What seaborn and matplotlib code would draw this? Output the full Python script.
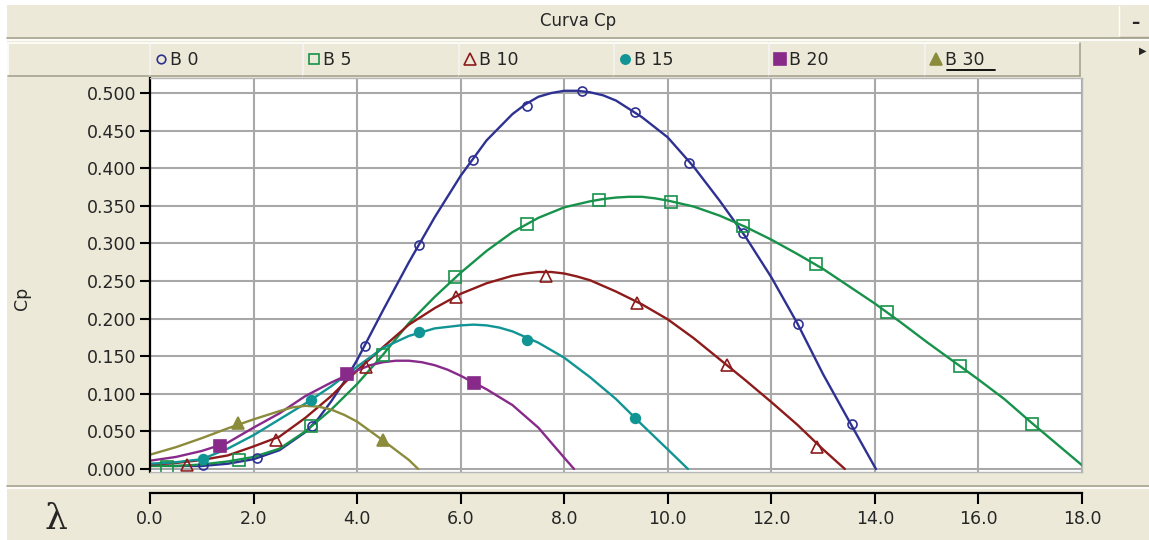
import matplotlib
matplotlib.use("Agg")
import numpy as np
import pandas as pd
import matplotlib.pyplot as plt
from matplotlib.patches import Rectangle
from matplotlib.lines import Line2D
import seaborn as sns

# ---- data (lambda, Cp) ----
# smooth curves (extra readings near the peaks)
b0_x = [0, 0.5, 1.0, 1.5, 2.0, 2.5, 3.0, 3.25, 3.5, 3.75, 4.0, 4.25, 4.5, 5.0, 5.5, 6.0, 6.5,
        7.0, 7.25, 7.5, 7.75, 8.0, 8.25, 8.5, 8.75, 9.0, 9.5, 10.0, 10.5, 11.0, 11.5, 12.0,
        12.5, 13.0, 13.5, 14.02]
b0_y = [0.005, 0.004, 0.004, 0.007, 0.013, 0.025, 0.049, 0.067, 0.090, 0.116, 0.145, 0.178,
        0.211, 0.275, 0.335, 0.390, 0.437, 0.472, 0.485, 0.495, 0.500, 0.503, 0.503, 0.501,
        0.497, 0.490, 0.468, 0.441, 0.402, 0.357, 0.309, 0.255, 0.194, 0.126, 0.064, 0.0]

b5_x = [0, 0.5, 1.0, 1.5, 2.0, 2.5, 3.0, 3.5, 4.0, 4.5, 5.0, 5.5, 6.0, 6.5, 7.0, 7.5, 8.0,
        8.5, 8.75, 9.0, 9.25, 9.5, 9.75, 10.0, 10.5, 11.0, 11.5, 12.0, 12.5, 13.0, 13.5, 14.0,
        14.5, 15.0, 15.5, 16.0, 16.5, 17.0, 17.5, 18.0]
b5_y = [0.004, 0.004, 0.006, 0.010, 0.016, 0.027, 0.050, 0.079, 0.113, 0.152, 0.194, 0.229,
        0.261, 0.290, 0.315, 0.334, 0.348, 0.356, 0.359, 0.361, 0.362, 0.362, 0.360, 0.357,
        0.349, 0.337, 0.322, 0.305, 0.286, 0.266, 0.243, 0.220, 0.195, 0.169, 0.144, 0.119,
        0.093, 0.063, 0.034, 0.005]

b10_x = [0, 0.5, 1.0, 1.5, 2.0, 2.5, 3.0, 3.5, 4.0, 4.5, 5.0, 5.5, 6.0, 6.5, 7.0, 7.25, 7.5,
         7.75, 8.0, 8.25, 8.5, 9.0, 9.5, 10.0, 10.5, 11.0, 11.5, 12.0, 12.5, 13.0, 13.42]
b10_y = [0.006, 0.008, 0.012, 0.018, 0.030, 0.043, 0.068, 0.097, 0.131, 0.162, 0.192, 0.214,
         0.233, 0.247, 0.257, 0.260, 0.262, 0.262, 0.260, 0.256, 0.251, 0.236, 0.219, 0.199,
         0.174, 0.146, 0.118, 0.089, 0.059, 0.026, 0.0]

b15_x = [0, 0.5, 1.0, 1.5, 2.0, 2.5, 3.0, 3.5, 4.0, 4.5, 5.0, 5.5, 5.75, 6.0, 6.25, 6.5, 6.75,
         7.0, 7.5, 8.0, 8.5, 9.0, 9.5, 10.0, 10.39]
b15_y = [0.007, 0.009, 0.013, 0.027, 0.045, 0.066, 0.087, 0.110, 0.136, 0.161, 0.177, 0.187,
         0.189, 0.191, 0.192, 0.191, 0.188, 0.183, 0.168, 0.148, 0.122, 0.093, 0.059, 0.026, 0.0]

b20_x = [0, 0.5, 1.0, 1.5, 2.0, 2.5, 3.0, 3.5, 4.0, 4.25, 4.5, 4.75, 5.0, 5.25, 5.5, 5.75,
         6.0, 6.5, 7.0, 7.5, 8.0, 8.19]
b20_y = [0.011, 0.016, 0.024, 0.035, 0.055, 0.074, 0.097, 0.115, 0.131, 0.138, 0.142, 0.144,
         0.144, 0.142, 0.138, 0.132, 0.124, 0.106, 0.085, 0.055, 0.015, 0.0]

b30_x = [0, 0.5, 1.0, 1.5, 2.0, 2.5, 2.75, 3.0, 3.25, 3.5, 3.75, 4.0, 4.5, 5.0, 5.18]
b30_y = [0.019, 0.029, 0.041, 0.054, 0.066, 0.077, 0.082, 0.084, 0.083, 0.079, 0.072, 0.063,
         0.038, 0.012, 0.0]

# sample points (markers)
b0_mx = [1.02, 2.07, 3.13, 4.15, 5.20, 6.24, 7.28, 8.34, 9.37, 10.41, 11.45, 12.51, 13.56]
b0_my = [0.005, 0.015, 0.057, 0.164, 0.298, 0.411, 0.483, 0.503, 0.475, 0.407, 0.314, 0.193, 0.060]
b5_mx = [0.33, 1.72, 3.11, 4.50, 5.89, 7.28, 8.67, 10.06, 11.45, 12.86, 14.23, 15.64, 17.03]
b5_my = [0.003, 0.012, 0.057, 0.152, 0.255, 0.326, 0.358, 0.355, 0.323, 0.273, 0.209, 0.137, 0.060]
b10_mx = [0.71, 2.43, 4.17, 5.91, 7.65, 9.40, 11.14, 12.88]
b10_my = [0.005, 0.038, 0.136, 0.229, 0.257, 0.221, 0.138, 0.029]
b15_mx = [1.03, 3.11, 5.20, 7.28, 9.37]
b15_my = [0.013, 0.092, 0.182, 0.172, 0.068]
b20_mx = [1.35, 3.80, 6.26]
b20_my = [0.031, 0.126, 0.115]
b30_mx = [1.70, 4.50]
b30_my = [0.061, 0.038]

names = ["B 0", "B 5", "B 10", "B 15", "B 20", "B 30"]
colors = ["#2E3192", "#17924A", "#8E1B1B", "#119494", "#882A8A", "#8B8B3C"]
markers = ["o", "s", "^", "o", "s", "^"]
filled = [False, False, False, True, True, True]
msizes = [6.5, 8, 8.5, 7, 8.5, 8.5]

curves = [(b0_x, b0_y), (b5_x, b5_y), (b10_x, b10_y), (b15_x, b15_y), (b20_x, b20_y), (b30_x, b30_y)]
points = [(b0_mx, b0_my), (b5_mx, b5_my), (b10_mx, b10_my), (b15_mx, b15_my), (b20_mx, b20_my), (b30_mx, b30_my)]

sns.set_style("white")
plt.rcParams['font.family'] = ['DejaVu Sans']

BG = "#ECE9D8"
DARK = "#A7A390"
W, H = 1149, 540
fig = plt.figure(figsize=(W / 100, H / 100), dpi=100, facecolor=BG)


def fx(px):
    return px / W


def fy(py):
    return 1 - py / H


def frect(x0, y0, x1, y1, **kw):
    fig.add_artist(Rectangle((fx(x0), fy(y1)), fx(x1) - fx(x0), fy(y0) - fy(y1),
                             transform=fig.transFigure, **kw))


def fline(xs, ys, **kw):
    fig.add_artist(Line2D([fx(v) for v in xs], [fy(v) for v in ys],
                          transform=fig.transFigure, **kw))


# white border around the panel
frect(0, 0, W, 5, fc="white", ec="none")
frect(0, 0, 7, H, fc="white", ec="none")

# title bar
fline([7, W], [38, 38], color=DARK, lw=1.2)
fline([7, W], [40, 40], color="white", lw=1.2)
fig.text(fx(578), fy(21), "Curva Cp", ha="center", va="center", fontsize=12)
# minimise button
fline([1119, 1119], [6, 37], color="white", lw=1)
fline([1119, W], [37, 37], color=DARK, lw=1)
fig.text(fx(1135), fy(23), "\u2013", ha="center", va="center", fontsize=12, fontweight="bold")
fig.text(fx(1143), fy(51), "\u25B6", ha="center", va="center", fontsize=7)

# legend strip
cells = [150, 303, 459, 614, 769, 925, 1080]
for x0, x1 in [(8, 150)] + list(zip(cells[:-1], cells[1:])):
    fline([x0, x1], [43, 43], color="white", lw=1.2)
    fline([x0, x0], [43, 76], color="white", lw=1.2)
    fline([x0, x1], [76, 76], color=DARK, lw=1.2)
    fline([x1, x1], [43, 76], color=DARK, lw=1.2)

for i, name in enumerate(names):
    x0 = cells[i]
    c = colors[i]
    fig.add_artist(Line2D([fx(x0 + 11)], [fy(59)], transform=fig.transFigure, marker=markers[i],
                          ms=msizes[i] * 0.95, mec=c, mfc=c if filled[i] else "none", mew=1.2, ls="none"))
    fig.text(fx(x0 + 20), fy(60), name, ha="left", va="center", fontsize=12.5)
fline([cells[5] + 22, cells[5] + 70], [70, 70], color="black", lw=1.3)

# separator above the x axis
fline([7, W], [486, 486], color=DARK, lw=1.2)
fline([7, W], [488, 488], color="white", lw=1.2)

# ---- main plot area ----
ax = fig.add_axes([fx(150), fy(472), fx(1082) - fx(150), fy(78) - fy(472)])
ax.set_facecolor("white")
for i in range(6):
    cx, cy = curves[i]
    df = pd.DataFrame({"lam": cx, "cp": cy})
    sns.lineplot(data=df, x="lam", y="cp", ax=ax, color=colors[i], lw=1.7, estimator=None)
for i in range(6):
    mx, my = points[i]
    dfm = pd.DataFrame({"lam": mx, "cp": my})
    sns.lineplot(data=dfm, x="lam", y="cp", ax=ax, ls="none", marker=markers[i], ms=msizes[i],
                 mec=colors[i], mfc=colors[i] if filled[i] else "none", mew=1.2,
                 color=colors[i], estimator=None)

ax.set_xlim(0, 18)
ax.set_ylim(-0.004, 0.52)
ax.set_xticks(np.arange(0, 18.1, 2.0))
ax.set_xticklabels([])
ax.set_yticks(np.arange(0, 0.501, 0.05))
ax.set_yticklabels([f"{v:.3f}" for v in np.arange(0, 0.501, 0.05)])
ax.grid(True, color="#A8A8A8", lw=1.5)
ax.set_axisbelow(True)
ax.set_xlabel("")
ax.set_ylabel("")
ax.tick_params(axis="x", length=0)
ax.tick_params(axis="y", direction="out", length=7, width=1.5, color="black",
               labelsize=12.5, pad=3, left=True)
for s in ["top", "right", "bottom"]:
    ax.spines[s].set_color("#B8B8B8")
    ax.spines[s].set_linewidth(1)
ax.spines["left"].set_color("black")
ax.spines["left"].set_linewidth(1.6)
fig.text(fx(22), fy(298), "Cp", rotation=90, ha="center", va="center", fontsize=12.5)

# ---- separate x axis below ----
axx = fig.add_axes([fx(150), fy(493), fx(1082) - fx(150), 0.0001])
axx.set_facecolor("none")
axx.set_xlim(0, 18)
axx.set_xticks(np.arange(0, 18.1, 2.0))
axx.set_xticklabels([f"{v:.1f}" for v in np.arange(0, 18.1, 2.0)])
axx.set_yticks([])
for s in ["top", "right", "left"]:
    axx.spines[s].set_visible(False)
axx.spines["bottom"].set_color("black")
axx.spines["bottom"].set_linewidth(1.6)
axx.tick_params(axis="x", direction="out", length=8, width=1.5, color="black",
                labelsize=12.5, pad=4, bottom=True)
fig.text(fx(56), fy(519), "\u03BB", ha="center", va="center", fontsize=26, family="DejaVu Serif")

fig.savefig("out.png", dpi=100, facecolor=BG)
